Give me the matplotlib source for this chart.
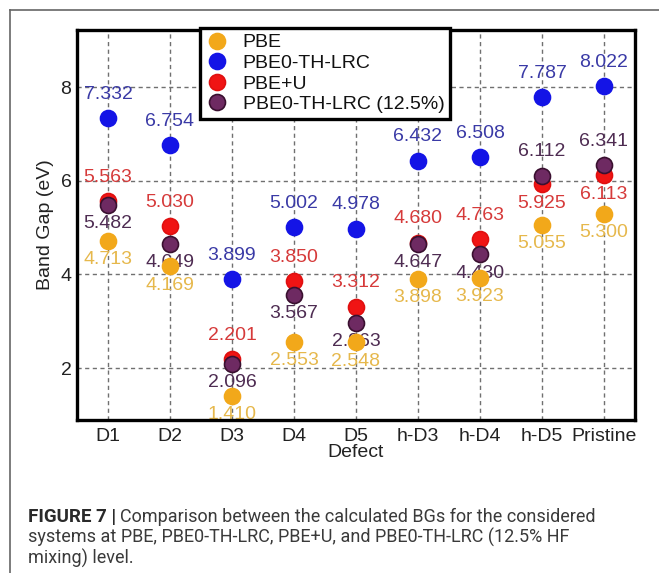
import matplotlib
matplotlib.use('Agg')
import matplotlib.pyplot as plt
from matplotlib.lines import Line2D
import numpy as np

plt.rcParams['font.family'] = ['Liberation Sans', 'DejaVu Sans']

# data
defects = ['D1', 'D2', 'D3', 'D4', 'D5', 'h-D3', 'h-D4', 'h-D5', 'Pristine']
pbe = [4.713, 4.169, 1.410, 2.553, 2.548, 3.898, 3.923, 5.055, 5.300]
pbe0 = [7.332, 6.754, 3.899, 5.002, 4.978, 6.432, 6.508, 7.787, 8.022]
pbe_u = [5.563, 5.030, 2.201, 3.850, 3.312, 4.680, 4.763, 5.925, 6.113]
pbe0_125 = [5.482, 4.649, 2.096, 3.567, 2.963, 4.647, 4.430, 6.112, 6.341]

names = ['PBE', 'PBE0-TH-LRC', 'PBE+U', 'PBE0-TH-LRC (12.5%)']
mk_col = ['#f2a81a', '#1414e6', '#f01414', '#6e2a62']
edge_col = ['#f2a81a', '#1414e6', '#e01010', '#3a1030']
txt_col = ['#e6b84c', '#3a3aa6', '#d63a3a', '#4e2c52']

fig = plt.figure(figsize=(6.59, 5.73), dpi=100)
ax = fig.add_axes([77/659, 1-420/573, (635-77)/659, (420-30)/573])

x = np.arange(1, len(defects)+1)
series = [pbe, pbe0, pbe_u, pbe0_125]
for i, s in enumerate(series):
    ax.plot(x, s, 'o', ms=11.5, color=mk_col[i], mec=edge_col[i], mew=1.2,
            label=names[i], zorder=3+i)

# value labels: blue above, orange below, red/purple by which is higher
for j in range(len(defects)):
    for i, s in enumerate(series):
        if i == 1:
            up = True
        elif i == 0:
            up = False
        elif i == 2:
            up = pbe_u[j] >= pbe0_125[j]
        else:
            up = pbe0_125[j] > pbe_u[j]
        off = 17 if up else -13.5
        ax.annotate('%.3f' % s[j], (x[j], s[j]), xytext=(0, off),
                    textcoords='offset points', ha='center', va='center',
                    fontsize=14, color=txt_col[i], zorder=2)

ax.set_xlim(0.5, 9.5)
ax.set_ylim(0.89, 9.22)
ax.set_xticks(x)
ax.set_xticklabels(defects)
ax.set_yticks([2, 4, 6, 8])
ax.tick_params(labelsize=14, length=0, colors='#222222')
ax.tick_params(axis='x', pad=6)
ax.tick_params(axis='y', pad=4)
ax.grid(True, ls=(0, (3, 2.5)), color='#707070', lw=1.0)
ax.set_axisbelow(True)
for sp in ax.spines.values():
    sp.set_linewidth(2.4)
    sp.set_color('black')
ax.set_xlabel('Defect', fontsize=14, labelpad=-1, color='#222222')
ax.set_ylabel('Band Gap (eV)', fontsize=14, labelpad=5, color='#222222')

leg = ax.legend(loc='upper left', bbox_to_anchor=((200-77)/558, 1.005),
                fontsize=14, frameon=True, fancybox=False, framealpha=1,
                edgecolor='black', handletextpad=0.8, labelspacing=0.15,
                borderpad=0.3, handlelength=1.1, borderaxespad=0)
leg.get_frame().set_linewidth(2.4)
leg.set_zorder(10)
for t in leg.get_texts():
    t.set_color('#111111')

# outer frame of the figure panel
fig.add_artist(Line2D([10/659, 1], [1-10/573, 1-10/573], color='#666666', lw=1.2))
fig.add_artist(Line2D([10/659, 10/659], [0, 1-10/573], color='#666666', lw=1.2))

# caption
cap_font = ['Roboto', 'Liberation Sans']
cy = 1 - 517/573
t1 = fig.text(28/659, cy, 'FIGURE 7 |', fontsize=13.5, fontweight='bold',
              color='#2a2a2a', va='center', family=cap_font)
fig.canvas.draw()
bb = t1.get_window_extent()
fig.text((bb.x1 + 4)/659, cy,
         'Comparison between the calculated BGs for the considered',
         fontsize=13, color='#3a3a3a', va='center', family=cap_font)
fig.text(28/659, 1 - 537/573,
         'systems at PBE, PBE0-TH-LRC, PBE+U, and PBE0-TH-LRC (12.5% HF',
         fontsize=13, color='#3a3a3a', va='center', family=cap_font)
fig.text(28/659, 1 - 558/573, 'mixing) level.',
         fontsize=13, color='#3a3a3a', va='center', family=cap_font)

fig.savefig('out.png', dpi=100)
